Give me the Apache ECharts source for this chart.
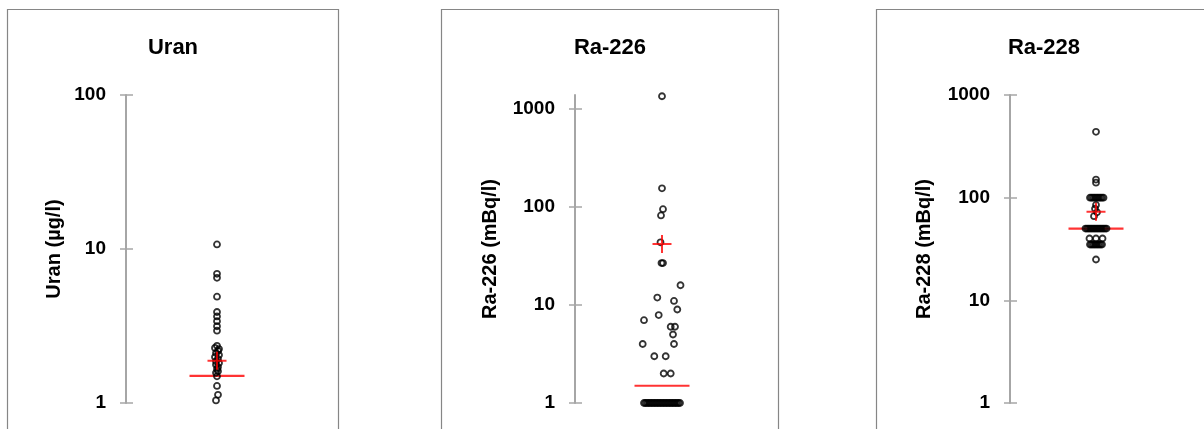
<!DOCTYPE html>
<html>
<head>
<meta charset="utf-8">
<script src="https://cdn.jsdelivr.net/npm/echarts@6/dist/echarts.min.js"></script>
<style>
  html, body { margin: 0; padding: 0; background: #fff; }
  #chart { width: 1204px; height: 429px; }
</style>
</head>
<body>
<div id="chart"></div>
<script>
// ---------- data ----------
const panelTitles = ['Uran', 'Ra-226', 'Ra-228'];
const axisNames = ['Uran (µg/l)', 'Ra-226 (mBq/l)', 'Ra-228 (mBq/l)'];
const axisMax = [100, 1390, 1000];
const tickValues1 = [1, 10, 100];
const tickValues2 = [1, 10, 100, 1000];
const tickValues3 = [1, 10, 100, 1000];

// Uran (µg/l)
const uranValues = [10.7, 6.9, 6.5, 4.9, 3.9, 3.65, 3.4, 3.15, 2.95,
  2.35, 2.28, 2.24, 2.18, 2.11, 2.05, 1.99, 1.93, 1.87, 1.82, 1.77, 1.71, 1.66, 1.61, 1.57,
  1.49, 1.29, 1.13, 1.04];
const uranOffsets = [0, 0, 0, 0, 0, 0, 0, 0, 0,
  0, -2, 2, 1, -1, 2, -2, 1, -1, 2, -1, 1, 0, 1, -1,
  0, 0, 1, -1];
const uranMedian = 1.5;
const uranMean = 1.88;

// Ra-226 (mBq/l)
const ra226Values = [1350, 155, 95, 82, 43.6, 26.8, 26.8, 15.9, 11.9, 11.0, 9.0, 7.9, 7.0,
  6.0, 6.0, 5.0, 4.0, 4.0, 3.0, 3.0, 2.0, 2.0,
  1, 1, 1, 1, 1, 1, 1, 1, 1, 1, 1, 1, 1, 1, 1, 1, 1, 1, 1, 1, 1, 1, 1, 1, 1];
const ra226Offsets = [0, 0, 1, -1, -1.5, -0.5, 1, 18.5, -4.7, 12, 15.3, -3.3, -18,
  8.7, 13, 11, -19.3, 12, -7.7, 3.7, 1.7, 8.7,
  -18, -16.5, -15, -13.5, -12, -10.5, -9, -7.5, -6, -4.5, -3, -1.5, 0,
  1.5, 3, 4.5, 6, 7.5, 9, 10.5, 12, 13.5, 15, 16.5, 18];
const ra226Median = 1.5;
const ra226Mean = 42;

// Ra-228 (mBq/l)
const ra228Values = [438, 150, 140,
  100, 100, 100, 100, 100, 100, 100, 100, 100, 100,
  85, 78, 72, 66,
  50, 50, 50, 50, 50, 50, 50, 50, 50, 50, 50, 50, 50, 50, 50,
  40, 40, 40,
  35, 35, 35, 35, 35, 35, 35, 35, 35,
  25];
const ra228Offsets = [0, 0, 0,
  -6, -4.5, -3, -1.5, 0, 1.5, 3, 4.5, 6, 7.5,
  0, -1, 1, -2,
  -10.5, -9, -7.5, -6, -4.5, -3, -1.5, 0, 1.5, 3, 4.5, 6, 7.5, 9, 10.5,
  -6.5, 0, 6.5,
  -6, -4.5, -3, -1.5, 0, 1.5, 3, 4.5, 6,
  0];
const ra228Median = 50;
const ra228Mean = 73;

// ---------- chart ----------
const FONT = '"Liberation Sans", Arial, sans-serif';
const AXIS_GRAY = '#a6a6a6';
const pair = (vals, offs) => vals.map((v, i) => [offs[i], v]);

const panels = [
  { values: uranValues, offsets: uranOffsets, median: uranMedian, mean: uranMean, ticks: tickValues1,
    grid: { left: 126, top: 95, width: 182, height: 308 }, half: 91, nameGap: 62 },
  { values: ra226Values, offsets: ra226Offsets, median: ra226Median, mean: ra226Mean, ticks: tickValues2,
    grid: { left: 575, top: 95, width: 174, height: 308 }, half: 87, nameGap: 75 },
  { values: ra228Values, offsets: ra228Offsets, median: ra228Median, mean: ra228Mean, ticks: tickValues3,
    grid: { left: 1010, top: 95, width: 172, height: 308 }, half: 86, nameGap: 76 }
];
const titleCenters = [173, 610, 1044];
const frames = [[7.5, 9.5, 331], [441.5, 9.5, 337], [876.5, 9.5, 340]];

const grid = [], xAxis = [], yAxis = [], series = [], title = [], graphic = [];
panels.forEach((p, i) => {
  grid.push(p.grid);
  xAxis.push({ type: 'value', gridIndex: i, min: -p.half, max: p.half, show: false });
  const yBase = { type: 'log', logBase: 10, gridIndex: i, min: 1, max: axisMax[i], position: 'left',
    splitLine: { show: false } };
  yAxis.push(Object.assign({}, yBase, {
    axisLine: { show: true, onZero: false, lineStyle: { color: AXIS_GRAY, width: 2 } },
    axisTick: { show: true, length: 6, customValues: p.ticks, lineStyle: { color: AXIS_GRAY, width: 1.5 } },
    axisLabel: { show: true, margin: 20, customValues: p.ticks, fontSize: 19, fontWeight: 'bold',
      fontFamily: FONT, color: '#000', formatter: v => String(Math.round(v)) },
    name: axisNames[i], nameLocation: 'middle', nameGap: p.nameGap,
    nameTextStyle: { fontSize: 20, fontWeight: 'bold', fontFamily: FONT, color: '#000' }
  }));
  yAxis.push(Object.assign({}, yBase, {
    axisLine: { show: false, onZero: false },
    axisTick: { show: true, inside: true, length: 7, customValues: p.ticks, lineStyle: { color: AXIS_GRAY, width: 1.5 } },
    axisLabel: { show: false }
  }));
  // median line (drawn below the points)
  series.push({ type: 'scatter', xAxisIndex: i, yAxisIndex: 2 * i, data: [[0, p.median]],
    symbol: 'rect', symbolSize: [55, 2.2], itemStyle: { color: '#ff0000' }, silent: true });
  // data points
  series.push({ type: 'scatter', xAxisIndex: i, yAxisIndex: 2 * i, data: pair(p.values, p.offsets),
    symbol: 'circle', symbolSize: 6,
    itemStyle: { color: 'rgba(0,0,0,0)', borderColor: '#000', borderWidth: 1.8 }, silent: true });
  // mean cross
  series.push({ type: 'scatter', xAxisIndex: i, yAxisIndex: 2 * i, data: [[0, p.mean]],
    symbol: 'path://M0,8 L19,8 L19,10 L0,10 Z M8.5,0 L10.5,0 L10.5,18 L8.5,18 Z',
    symbolSize: [19, 18], itemStyle: { color: '#ff0000' }, silent: true });

  title.push({ text: panelTitles[i], left: titleCenters[i] - 5, top: 32, textAlign: 'center',
    textStyle: { fontSize: 22, fontWeight: 'bold', fontFamily: FONT, color: '#000' } });
  graphic.push({ type: 'rect', silent: true,
    shape: { x: frames[i][0], y: frames[i][1], width: frames[i][2], height: 440 },
    style: { fill: 'none', stroke: '#868686', lineWidth: 1.2 } });
});

const chart = echarts.init(document.getElementById('chart'), null, { renderer: 'canvas' });
chart.setOption({ animation: false, backgroundColor: '#fff', title, grid, xAxis, yAxis, series, graphic });
</script>
</body>
</html>
